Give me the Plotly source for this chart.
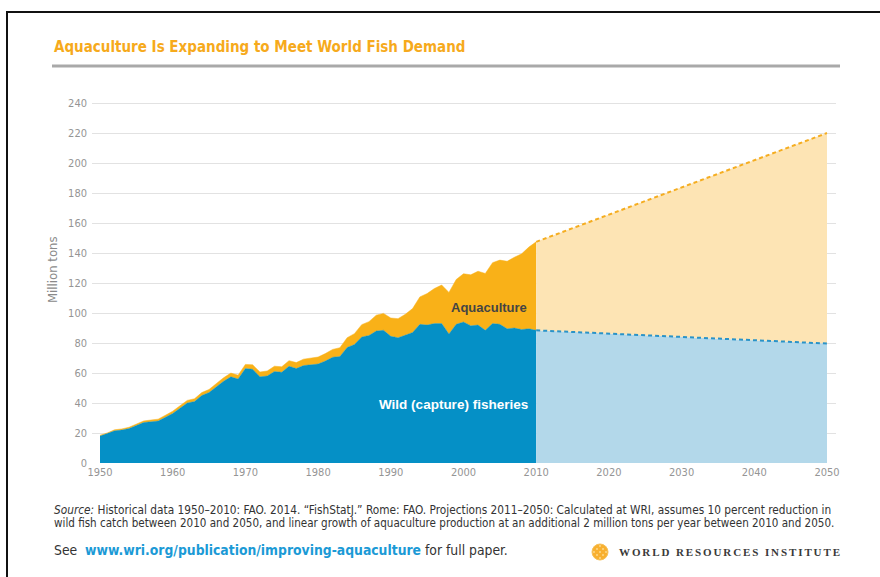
import plotly.graph_objects as go

# ---------------- data ----------------
hist_years = list(range(1950, 2011))
wild_catch = [
    18.0, 19.5, 21.5, 22.0, 23.0, 25.0, 27.0, 27.5, 28.0, 30.5,   # 1950-59
    33.0, 36.5, 40.0, 41.0, 45.0, 47.0, 51.0, 54.5, 57.5, 56.0,   # 1960-69
    63.0, 62.5, 57.5, 58.0, 61.0, 60.5, 64.5, 63.0, 65.0, 65.5,   # 1970-79
    66.0, 68.0, 70.5, 71.0, 77.0, 79.0, 84.0, 85.0, 88.0, 88.5,   # 1980-89
    84.5, 83.5, 85.0, 87.0, 92.5, 92.0, 93.0, 93.0, 86.0, 92.5,   # 1990-99
    94.0, 91.5, 92.0, 88.5, 93.0, 92.5, 89.5, 90.0, 89.0, 89.5,   # 2000-09
    88.5,                                                          # 2010
]
aquaculture = [
    0.6, 0.6, 0.7, 0.8, 0.9, 1.0, 1.1, 1.2, 1.3, 1.4,
    1.6, 1.7, 1.8, 1.9, 2.0, 2.1, 2.2, 2.4, 2.5, 2.6,
    2.8, 3.0, 3.2, 3.4, 3.6, 3.7, 3.8, 4.0, 4.3, 4.5,
    4.7, 5.0, 5.3, 5.9, 6.6, 7.3, 8.3, 9.3, 10.6, 11.3,
    12.2, 12.8, 14.2, 16.0, 18.3, 21.0, 23.4, 25.7, 27.8, 29.9,
    32.2, 34.0, 35.9, 37.9, 40.6, 42.8, 45.0, 47.2, 50.5, 54.5,
    59.0,
]
proj_years = [2010, 2050]
proj_wild = [88.5, 79.7]
proj_aquaculture = [59.0, 140.3]

x_ticks = list(range(1950, 2051, 10))
y_ticks = list(range(0, 241, 20))

# ---------------- styling ----------------
BLUE = "#0590C6"
ORANGE = "#F9B118"
LIGHT_BLUE = "#B3D8EA"
LIGHT_ORANGE = "#FDE4B4"
DASH_BLUE = "#2A93C8"
DASH_ORANGE = "#F5AD20"
NARROW = "Liberation Sans Narrow, DejaVu Sans Condensed, Arial Narrow, sans-serif"
SANS = "Liberation Sans, Arial, Helvetica, sans-serif"

W, H = 880, 577
L, R, T, B = 92, 836, 102, 464


def px(x):
    return (x - L) / (R - L)


def py(y):
    return (B - y) / (B - T)


fig = go.Figure()

fig.add_trace(go.Scatter(
    x=hist_years, y=wild_catch, stackgroup="hist", mode="lines",
    line=dict(color=BLUE, width=0.5), fillcolor=BLUE, name="Wild (capture) fisheries",
    hoverinfo="x+y"))
fig.add_trace(go.Scatter(
    x=hist_years, y=aquaculture, stackgroup="hist", mode="lines",
    line=dict(color=ORANGE, width=0.5), fillcolor=ORANGE, name="Aquaculture",
    hoverinfo="x+y"))
fig.add_trace(go.Scatter(
    x=proj_years, y=proj_wild, stackgroup="proj", mode="lines",
    line=dict(color=DASH_BLUE, width=2, dash="4px,3px"), fillcolor=LIGHT_BLUE,
    name="Wild (projection)", hoverinfo="x+y"))
fig.add_trace(go.Scatter(
    x=proj_years, y=proj_aquaculture, stackgroup="proj", mode="lines",
    line=dict(color=DASH_ORANGE, width=2, dash="4px,3px"), fillcolor=LIGHT_ORANGE,
    name="Aquaculture (projection)", hoverinfo="x+y"))

tick_font = dict(family=NARROW, size=11, color="#959595")

fig.update_xaxes(
    range=[1948.9, 2051.24], tickvals=x_ticks, ticktext=[str(v) for v in x_ticks],
    showgrid=False, zeroline=False, showline=False, ticks="",
    tickfont=tick_font, fixedrange=True)
fig.update_yaxes(
    range=[-0.6, 240.7], tickvals=y_ticks, ticktext=[str(v) for v in y_ticks],
    showgrid=True, gridcolor="#e2e2e2", gridwidth=1, zeroline=False,
    showline=False, ticks="", tickfont=tick_font, ticklabelstandoff=4,
    fixedrange=True)

annotations = [
    dict(x=px(52), y=py(47), text="<b>Aquaculture Is Expanding to Meet World Fish Demand</b>",
         font=dict(family=NARROW, size=15, color="#F6AA1C"), xanchor="left", yanchor="middle"),
    dict(x=px(52), y=py(270), text="Million tons", textangle=-90,
         font=dict(family=NARROW, size=13, color="#8a8a8a"), xanchor="center", yanchor="middle"),
    dict(x=px(489), y=py(307), text="<b>Aquaculture</b>",
         font=dict(family=SANS, size=13, color="#444444"), xanchor="center", yanchor="middle"),
    dict(x=px(453), y=py(404), text="<b>Wild (capture) fisheries</b>",
         font=dict(family=SANS, size=13.5, color="#ffffff"), xanchor="center", yanchor="middle"),
    dict(x=px(52), y=py(510),
         text="<i>Source:</i> Historical data 1950\u20132010: FAO. 2014. \u201cFishStatJ.\u201d Rome: FAO. "
              "Projections 2011\u20132050: Calculated at WRI, assumes 10 percent reduction in",
         font=dict(family=NARROW, size=11.75, color="#333333"), xanchor="left", yanchor="middle"),
    dict(x=px(52), y=py(523),
         text="wild fish catch between 2010 and 2050, and linear growth of aquaculture production "
              "at an additional 2 million tons per year between 2010 and 2050.",
         font=dict(family=NARROW, size=11.55, color="#333333"), xanchor="left", yanchor="middle"),
    dict(x=px(52), y=py(550),
         text="See  <b><span style=\"color:#1B9AD6\">www.wri.org/publication/improving-aquaculture</span></b> for full paper.",
         font=dict(family=NARROW, size=13.8, color="#333333"), xanchor="left", yanchor="middle"),
    dict(x=px(617), y=py(552),
         text="<b><span style=\"letter-spacing:1.9px\">WORLD RESOURCES INSTITUTE</span></b>",
         font=dict(family="Liberation Serif, DejaVu Serif, serif", size=11, color="#3a3a3a"),
         xanchor="left", yanchor="middle"),
]
for a in annotations:
    a.setdefault("xref", "paper")
    a.setdefault("yref", "paper")
    a["showarrow"] = False

shapes = [
    # title rule
    dict(type="line", xref="paper", yref="paper", x0=px(52), x1=px(840), y0=py(66), y1=py(66),
         line=dict(color="#a9a9a9", width=3)),
    # frame
    dict(type="line", xref="paper", yref="paper", x0=px(6), x1=px(881), y0=py(12), y1=py(12),
         line=dict(color="#111111", width=2)),
    dict(type="line", xref="paper", yref="paper", x0=px(7), x1=px(7), y0=py(12), y1=py(578),
         line=dict(color="#111111", width=2)),
    # logo mark
    dict(type="circle", xref="paper", yref="paper", x0=px(592), x1=px(608), y0=py(560), y1=py(544),
         fillcolor="#F8B030", line=dict(color="#F6C15A", width=1)),
]
# light lattice inside the logo mark
for cx, cy in [(597, 549), (603, 549), (600, 552), (597, 555), (603, 555), (594, 552), (606, 552), (600, 546), (600, 558)]:
    shapes.append(dict(type="circle", xref="paper", yref="paper",
                       x0=px(cx - 1), x1=px(cx + 1), y0=py(cy + 1), y1=py(cy - 1),
                       fillcolor="#FCD98A", line=dict(width=0)))

fig.update_layout(
    width=W, height=H,
    margin=dict(l=L, r=W - R, t=T, b=H - B, pad=0),
    paper_bgcolor="#ffffff", plot_bgcolor="#ffffff",
    showlegend=False,
    annotations=annotations,
    shapes=shapes,
    font=dict(family=NARROW),
)

fig.write_html("out.html")
